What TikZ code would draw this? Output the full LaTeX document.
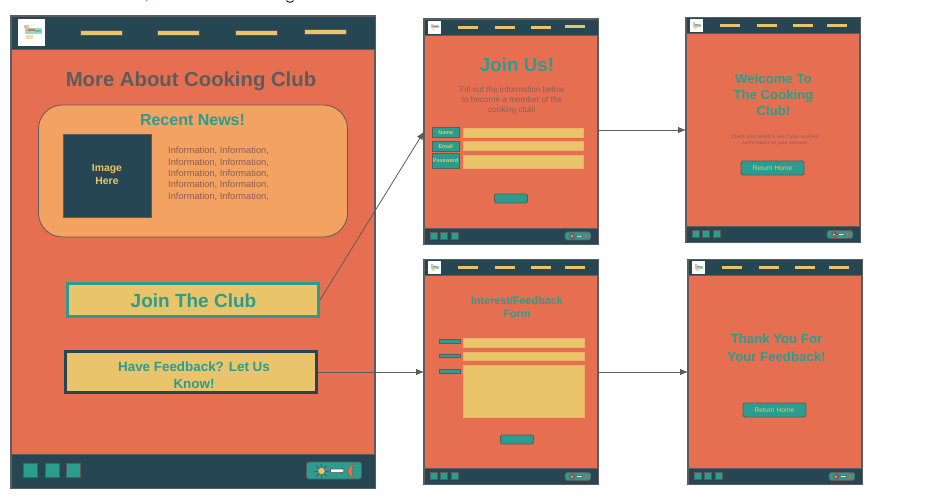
\documentclass[tikz,border=0pt]{standalone}
\usepackage{fontspec}
\setmainfont{Liberation Sans}
\usetikzlibrary{arrows.meta}
\definecolor{navy}{HTML}{264653}
\definecolor{coral}{HTML}{E76F51}
\definecolor{teal2}{HTML}{2A9D8F}
\definecolor{sand}{HTML}{E9C46A}
\definecolor{peach}{HTML}{F4A261}
\definecolor{edge}{HTML}{5C5C5C}
\definecolor{bodytxt}{HTML}{8A5F57}
\tikzset{
  x=1pt,y=-1pt,
  frame/.style={draw=edge,line width=1.2pt,fill=coral,inner sep=0pt,outer sep=0pt},
  bar/.style={draw=edge,fill=navy,line width=.9pt},
  navlink/.style={draw=edge!70!navy,fill=sand,line width=.6pt},
  sq/.style={draw=edge,fill=teal2,line width=.6pt},
  field/.style={fill=sand,draw=peach!60!sand,line width=.5pt},
  tbtn/.style={draw=edge,fill=teal2,line width=.9pt,rounded corners=1.5pt},
  lbl/.style={align=center,inner sep=0pt,font=\bfseries},
  conn/.style={draw=edge,line width=.8pt,-{Latex[length=8pt,width=6.5pt]}},
}
% logo drawn in a 27 x 27 box whose top left corner is the origin
\newcommand{\clublogo}{%
  \fill[white] (0,0) rectangle (27,27);
  \fill[teal2!45] (7,9) rectangle (24,15);
  \fill[coral] (10,10.5) rectangle (17,12.5);
  \fill[coral!50] (6,6) rectangle (11,9);
  \fill[sand!60] (8,16) rectangle (15,20);
  \fill[teal2!70] (17,11) rectangle (23,13);
}
% toggle drawn in a 55 x 17 box whose top left corner is the origin
\newcommand{\daynight}{%
  \draw[draw=edge,fill=teal2,line width=.7pt,rounded corners=2.5pt] (0,0) rectangle (55,17);
  \foreach \a in {0,45,...,315}
    \draw[edge,line width=1pt] (15,9) -- ++(\a:7.5);
  \fill[sand,draw=edge,line width=.4pt] (15,9) circle (3.6);
  \fill[white,draw=edge,line width=.6pt] (24,7) -- (35,7) -- (35,6) -- (38,8.7) -- (35,11.4) -- (35,10.4) -- (24,10.4) -- cycle;
  \fill[coral,draw=edge,line width=.3pt] (48,1.5) .. controls (39,5) and (39,13) .. (48,16.5)
     .. controls (44.5,12) and (44.5,6) .. (48,1.5);
}
% #1 name, #2 left, #3 top of a small page (174 x 225)
\newcommand{\miniframe}[3]{%
  \node[frame,minimum width=174pt,minimum height=225pt] (#1) at (#2+87,#3+112.5) {};
  \begin{scope}[shift={(#2,#3)}]
    \draw[bar] (0,0) rectangle (174,16);
    \draw[bar] (0,209) rectangle (174,225);
    \begin{scope}[shift={(4,2)},scale=.47]\clublogo\end{scope}
    \foreach \p in {33.7,70.5,107}
      \fill[fill=sand] (\p,7) rectangle ++(20,2.6);
    \fill[fill=sand] (140.5,6.5) rectangle ++(20.5,2.6);
    \foreach \p in {6,16.5,27}
      \draw[sq,line width=.4pt] (\p,213) rectangle ++(7,7);
    \begin{scope}[shift={(141,213)},scale=.47]\daynight\end{scope}
  \end{scope}
}
\begin{document}
\begin{tikzpicture}
\useasboundingbox (0,0) rectangle (942,502);
\fill[white] (0,0) rectangle (942,502);
% cropped text fragments at the top edge
\draw[red!80!black,line width=.7pt] (147,0) -- (146.6,1.2);
\draw[black,line width=.9pt] (286.5,0.6) .. controls (288,2.8) and (292,2.8) .. (293.5,0.6);

% main page
\node[frame,minimum width=364pt,minimum height=472pt] (main) at (193,252) {};
\draw[bar] (11,16) rectangle (375,49);
\draw[bar] (11,454) rectangle (375,488);
\begin{scope}[shift={(18,19)}]\clublogo\end{scope}
\foreach \p in {80.5,157.5,235}
  \draw[navlink] (\p,30.5) rectangle ++(42,5);
\draw[navlink] (304,29.5) rectangle ++(42,5);
\foreach \p in {23,45,66.5}
  \draw[sq] (\p,463.5) rectangle ++(14,14);
\begin{scope}[shift={(306.5,462)}]\daynight\end{scope}

\node[lbl,text=edge,font=\bfseries\fontsize{20.3}{24}\selectfont] (title) at (191,81) {More About Cooking Club};
\node[draw=edge,line width=.8pt,fill=peach,rounded corners=24pt,minimum width=309pt,minimum height=132pt,inner sep=0pt] (news) at (193,171) {};
\node[lbl,text=teal2,font=\bfseries\fontsize{16}{19}\selectfont] (newshead) at (192.5,120.5) {Recent News!};
\node[draw=edge,line width=.8pt,fill=navy,minimum width=88pt,minimum height=83pt,inner sep=0pt] (img) at (107,175.5) {};
\node[lbl,text=sand,font=\bfseries\fontsize{10.4}{12.6}\selectfont] (imgtxt) at (107,174.5) {Image\\Here};
\node[align=left,anchor=north west,inner sep=0pt,text=bodytxt,font=\fontsize{9.3}{11.3}\selectfont] (info) at (168,147) {Information, Information,\\Information, Information,\\Information, Information,\\Information, Information,\\Information, Information,};
\node[draw=teal2,line width=3pt,fill=sand,minimum width=251pt,minimum height=33pt,inner sep=0pt] (joinbtn) at (193,300) {};
\node[lbl,text=teal2,font=\bfseries\fontsize{19}{22}\selectfont] (jointxt) at (193.5,300.5) {Join The Club};
\node[draw=navy,line width=3pt,fill=sand,minimum width=251pt,minimum height=40pt,inner sep=0pt] (fbbtn) at (191.3,372) {};
\node[lbl,text=teal2,font=\bfseries\fontsize{13.4}{17}\selectfont] (fbtxt) at (194,375) {Have Feedback? Let Us\\Know!};

% join page
\miniframe{join}{424}{19}
\node[lbl,text=teal2,font=\bfseries\fontsize{18.8}{22}\selectfont] (jointitle) at (517,64.5) {Join Us!};
\node[align=center,inner sep=0pt,text=bodytxt,font=\fontsize{8.2}{10}\selectfont] (joinsub) at (512,100) {Fill out the information below\\to become a member of the\\cooking club!};
\foreach \n/\t/\a/\b/\s/\e in {Name/Name/127.5/137/128/137,Email/Email/141.5/151/141/150,Password/Password/153.5/168/155/168}{
  \draw[field] (463,\s) rectangle (583,\e);
  \node[draw=edge,line width=.9pt,fill=teal2,text=sand,inner sep=0pt,minimum width=27pt,minimum height={\b-\a},font=\bfseries\fontsize{5.4}{6}\selectfont] (lab\n) at (445.7,{(\a+\b)/2}) {\t};
}
\draw[tbtn] (494.5,194) rectangle (527.5,203);

% welcome page
\miniframe{welcome}{686}{17.5}
\node[lbl,text=teal2,font=\bfseries\fontsize{13.2}{16}\selectfont] (wtitle) at (773.5,94.5) {Welcome To\\The Cooking\\Club!};
\node[align=center,inner sep=0pt,text=bodytxt,font=\fontsize{5}{6}\selectfont] (wsub) at (775,140.5) {Check your email to see if you received\\confirmation for your account.};
\node[tbtn,minimum width=63pt,minimum height=14pt,inner sep=0pt,text=sand,font=\fontsize{6.7}{8}\selectfont] (whome) at (772.5,168) {Return Home};

% feedback page
\miniframe{form}{424}{259.5}
\node[lbl,text=teal2,font=\bfseries\fontsize{10.8}{13}\selectfont] (ftitle) at (517,307) {Interest/Feedback\\Form};
\foreach \a/\s/\e in {339.5/338/347,354/352/360,369.5/365/417}{
  \draw[field] (463.5,\s) rectangle (584,\e);
  \draw[draw=edge,fill=teal2,line width=.9pt] (439,\a) rectangle (460,\a+3.5);
}
\draw[tbtn] (500.5,435) rectangle (533.5,444);

% thank page
\miniframe{thanks}{688}{259.5}
\node[lbl,text=teal2,font=\bfseries\fontsize{13.2}{18}\selectfont] (ttitle) at (776.5,348) {Thank You For\\Your Feedback!};
\node[tbtn,minimum width=63pt,minimum height=14pt,inner sep=0pt,text=sand,font=\fontsize{6.7}{8}\selectfont] (thome) at (774.5,410) {Return Home};

% connectors
\draw[conn] (joinbtn.east) -- (join.west);
\draw[conn] (fbbtn.east) -- (form.west);
\draw[conn] (join.east |- welcome.west) -- (welcome.west);
\draw[conn] (form.east) -- (thanks.west);
\end{tikzpicture}
\end{document}
